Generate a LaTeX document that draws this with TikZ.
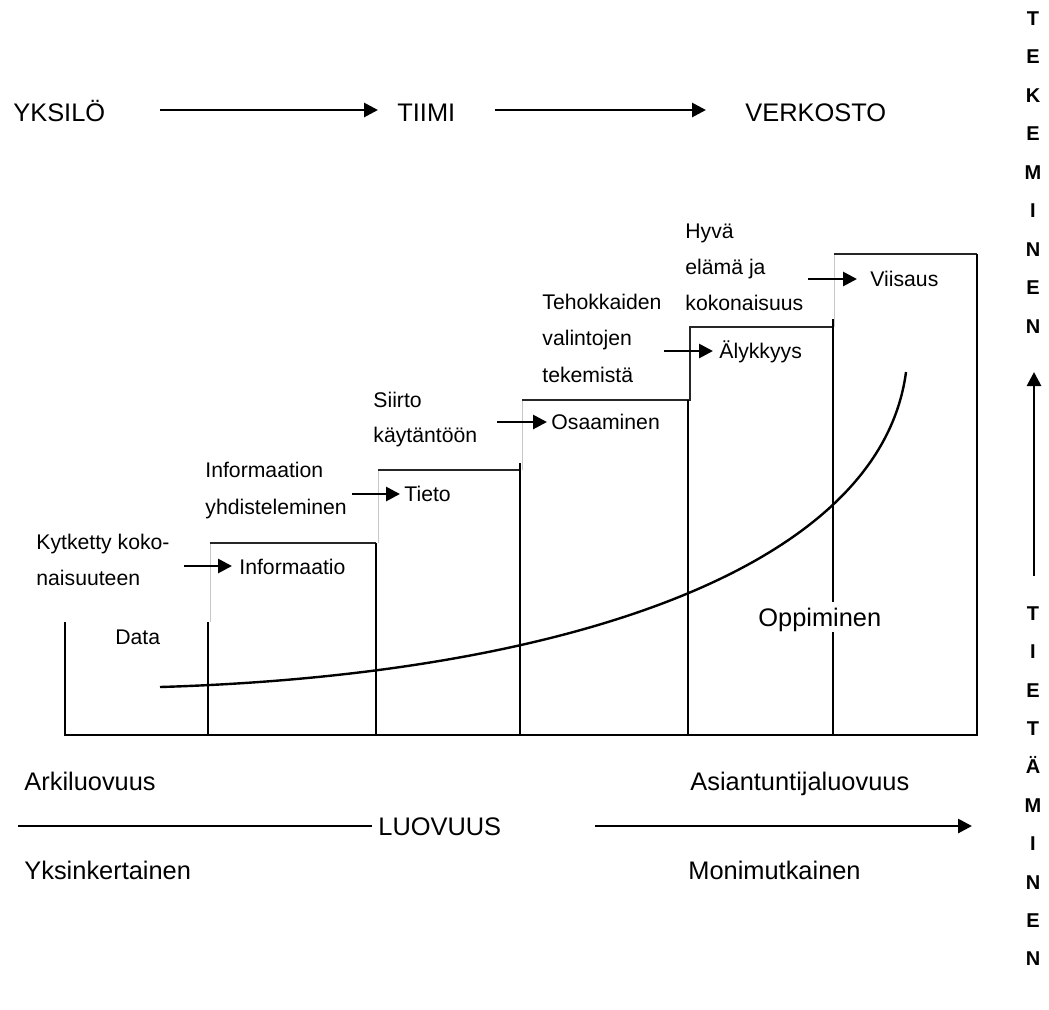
\documentclass[tikz,border=0pt]{standalone}
\usepackage{fontspec}
\setmainfont{Liberation Sans}
\usetikzlibrary{arrows.meta}
\begin{document}
\begin{tikzpicture}[x=0.5pt,y=-0.5pt,
  big/.style={font=\fontsize{12.7}{15}\selectfont, inner sep=0pt, anchor=west, text height=9.1pt, text depth=0pt},
  small/.style={font=\fontsize{10.6}{13}\selectfont, inner sep=0pt, anchor=west, text height=7.6pt, text depth=0pt},
  vert/.style={font=\fontsize{10}{12}\bfseries\selectfont, inner sep=0pt, text height=7.2pt, text depth=0pt},
  arr/.style={line width=1.4pt, -{Triangle[length=7pt,width=7pt]}},
  wall/.style={line width=1.3pt},
  topline/.style={line width=0.9pt, black!85},
  ghost/.style={line width=0.5pt, black!22},
  curve/.style={line width=1.2pt},
]
\useasboundingbox (0,0) rectangle (1049,1009);

% ---- top row: individual -> team -> network
\node[big] (yksilo) at (13,112) {YKSILÖ};
\node[big] (tiimi) at (397,112) {TIIMI};
\node[big] (verkosto) at (745,112) {VERKOSTO};
\coordinate (t1s) at (160,110); \coordinate (t1e) at (378,110);
\coordinate (t2s) at (495,110); \coordinate (t2e) at (706,110);
\draw[arr] (t1s) -- (t1e);
\draw[arr] (t2s) -- (t2e);

% ---- staircase
% faint left edges of the raised steps
\draw[ghost] (210,622) -- (210,543);
\draw[ghost] (378,543) -- (378,470);
\draw[ghost] (522,470) -- (522,400);
\draw[ghost] (834,327) -- (834,254);
% step tops
\draw[topline] (210,543) -- (376,543);
\draw[topline] (378,470) -- (520,470);
\draw[topline] (522,400) -- (688,400);
\draw[topline] (688,400) -- (690,400) -- (690,327) -- (833,327);
\draw[topline] (834,254) -- (977,254);
% walls and floor
\draw[wall] (65,622) -- (65,735) -- (977,735) -- (977,254);
\draw[wall] (208,622) -- (208,735);
\draw[wall] (376,543) -- (376,735);
\draw[wall] (520,463) -- (520,735);
\draw[wall] (688,400) -- (688,735);
\draw[wall] (833,319) -- (833,735);

% learning curve
\coordinate (cs) at (160,687);
\coordinate (ce) at (906,372);
\draw[curve] (cs) .. controls (560,675) and (880,570) .. (ce);
\node[big, fill=white, inner xsep=2pt, inner ysep=3pt] (oppiminen) at (754,617) {Oppiminen};

% ---- step labels
\node[small] (data) at (115,637) {Data};

\node[small] (kyt1) at (36,542) {Kytketty koko-};
\node[small] (kyt2) at (36,578) {naisuuteen};
\node[small] (informaatio) at (239,567) {Informaatio};
\coordinate (a1) at (184,566); \coordinate (a1e) at (232,566);
\draw[arr] (a1) -- (a1e);

\node[small] (inf1) at (205,470) {Informaation};
\node[small] (inf2) at (205,507) {yhdisteleminen};
\node[small] (tieto) at (404,494) {Tieto};
\coordinate (a2) at (352,494); \coordinate (a2e) at (400,494);
\draw[arr] (a2) -- (a2e);

\node[small] (sii1) at (373,400) {Siirto};
\node[small] (sii2) at (373,435) {käytäntöön};
\node[small] (osaaminen) at (551,422) {Osaaminen};
\coordinate (a3) at (497,422); \coordinate (a3e) at (547,422);
\draw[arr] (a3) -- (a3e);

\node[small] (teh1) at (542,302) {Tehokkaiden};
\node[small] (teh2) at (542,338) {valintojen};
\node[small] (teh3) at (542,375) {tekemistä};
\node[small] (alykkyys) at (719,351) {Älykkyys};
\coordinate (a4) at (664,351); \coordinate (a4e) at (713,351);
\draw[arr] (a4) -- (a4e);

\node[small] (hyv1) at (685,231) {Hyvä};
\node[small] (hyv2) at (685,267) {elämä ja};
\node[small] (hyv3) at (685,303) {kokonaisuus};
\node[small] (viisaus) at (870,279) {Viisaus};
\coordinate (a5) at (808,279); \coordinate (a5e) at (857,279);
\draw[arr] (a5) -- (a5e);

% ---- creativity axis
\node[big] (arki) at (24,781) {Arkiluovuus};
\node[big] (asiantuntija) at (690,781) {Asiantuntijaluovuus};
\node[big] (luovuus) at (378,826) {LUOVUUS};
\node[big] (yksinkertainen) at (24,870) {Yksinkertainen};
\node[big] (monimutkainen) at (688,870) {Monimutkainen};
\coordinate (l1) at (18,826); \coordinate (l1e) at (372,826);
\coordinate (l2) at (595,826); \coordinate (l2e) at (972,826);
\draw[line width=1.4pt] (l1) -- (l1e);
\draw[arr] (l2) -- (l2e);

% ---- vertical axis: knowing -> doing
\foreach \ch [count=\i from 0] in {T,E,K,E,M,I,N,E,N}
  \node[vert] (tek\i) at (1033,{18+38.5*\i}) {\ch};
\foreach \ch [count=\i from 0] in {T,I,E,T,Ä,M,I,N,E,N}
  \node[vert] (tie\i) at (1033,{613+38.4*\i}) {\ch};
\coordinate (v1) at (1034,576); \coordinate (v1e) at (1034,372);
\draw[arr] (v1) -- (v1e);
\end{tikzpicture}
\end{document}
